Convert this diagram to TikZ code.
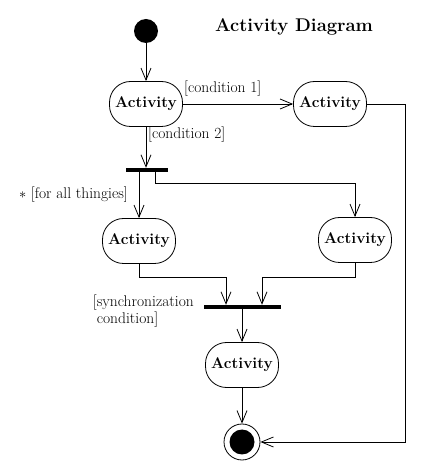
\documentclass[tikz,border=0pt]{standalone}
\usepackage{fontspec}
\usepackage{tikz}
\usepackage{xcolor}
\usetikzlibrary{arrows.meta}

\tikzset{
  activity/.style={draw, line width=0.8pt, rounded corners=21pt, minimum width=73pt, minimum height=45pt, inner sep=2pt, font=\bfseries\fontsize{15.5}{18}\selectfont},
  bar/.style={fill=black, inner sep=0pt, minimum height=4pt},
  flow/.style={draw, line width=0.8pt, -{Straight Barb[length=12pt,width=10pt,line width=0.8pt]}},
  guard/.style={font=\fontsize{15.5}{17}\selectfont, inner sep=1pt},
  startstate/.style={circle, fill=black, minimum size=24pt, inner sep=0pt},
  finalstate/.style={circle, draw, line width=0.8pt, minimum size=36pt, inner sep=0pt,
    path picture={\fill (path picture bounding box.center) circle (12.5pt);}}
}

\begin{document}
\begin{tikzpicture}[x=1pt,y=1pt]
  % Fix the page size
  \useasboundingbox (0,0) rectangle (434,472);

  % Title
  \node[font=\bfseries\fontsize{18.4}{22}\selectfont] (title) at (294,445) {Activity Diagram};

  % Start, activities, bars and end
  \node[startstate] (start) at (146,441) {};
  \node[activity] (act1) at (146,368) {Activity};
  \node[activity] (act2) at (330,368) {Activity};
  \node[bar, minimum width=42pt] (fork) at (147,302) {};
  \node[activity] (act3) at (139,231) {Activity};
  \node[activity] (act4) at (355,232) {Activity};
  \node[bar, minimum width=77pt] (join) at (242,165) {};
  \node[activity] (act5) at (242,107) {Activity};
  \node[finalstate] (final) at (242,30) {};
  \coordinate (corner) at (405,30);

  % Guards
  \node[guard, anchor=west] (cond1) at (183,383) {[condition 1]};
  \node[guard, anchor=west] (cond2) at (147,337) {[condition 2]};
  \node[guard, anchor=east] (forall) at (129,277) {$*$ [for all thingies]};
  \node[guard, anchor=east, align=left] (sync) at (195,161) {[synchronization\\\phantom{[}condition]};

  % Transitions
  \draw[flow] (start) -- (act1);
  \draw[flow] (act1.east) -- (act2.west);
  \draw[flow] (act1) -- (act1 |- fork.north);
  \draw[flow] (act3 |- fork.south) -- (act3);
  \draw[flow] ([xshift=8pt]fork.south) -- ++(0,-11) -| (act4);
  \draw[flow] (act3.south) -- ++(0,-14) -| ([xshift=-16pt]join.north);
  \draw[flow] (act4.south) -- ++(0,-15) -| ([xshift=20pt]join.north);
  \draw[flow] (join) -- (act5);
  \draw[flow] (act5) -- (final);
  \draw[flow] (act2.east) -| (corner) -- (final);
\end{tikzpicture}
\end{document}
